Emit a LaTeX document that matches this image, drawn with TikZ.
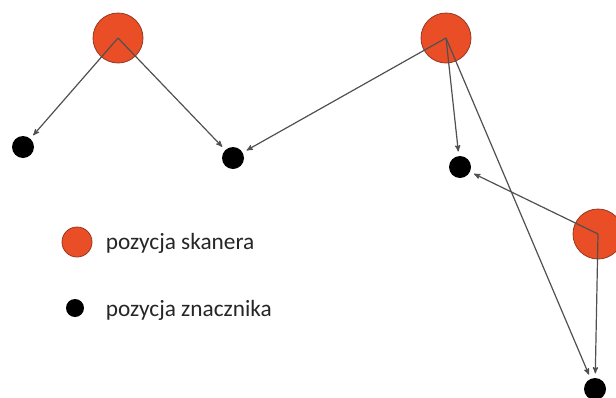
\documentclass[tikz,border=0pt]{standalone}
\usepackage{fontspec}
\setmainfont{Carlito}
\usetikzlibrary{arrows}
\definecolor{scanorange}{RGB}{234,78,38}
\definecolor{scanedge}{RGB}{150,55,35}
\definecolor{linegray}{RGB}{80,80,80}

\begin{document}
\begin{tikzpicture}[x=1pt,y=-1pt,->,>=stealth',shorten >=4pt,line width=1.2pt]
  \tikzstyle{scanner}=[circle,draw=scanedge,line width=0.8pt,fill=scanorange,minimum size=50pt,inner sep=0pt]
  \tikzstyle{marker}=[circle,fill=black,minimum size=22pt,inner sep=0pt]
  \tikzstyle{legend}=[anchor=west,text=black!85,font=\fontsize{23.3}{28}\selectfont]
  \tikzstyle{every edge}=[draw=linegray]

  \useasboundingbox (0,0) rectangle (616,397);

  \node[scanner] (s1) at (118,38)  {};
  \node[scanner] (s2) at (446,38)  {};
  \node[scanner] (s3) at (598,234) {};

  \node[marker]  (m1) at (23,147)  {};
  \node[marker]  (m2) at (233,158) {};
  \node[marker]  (m3) at (460,167) {};
  \node[marker]  (m4) at (595,389) {};

  \path (s1.center) edge (m1)
        (s1.center) edge (m2)
        (s2.center) edge (m2)
        (s2.center) edge (m3)
        (s2.center) edge (m4)
        (s3.center) edge (m3)
        (s3.center) edge (m4);

  % legend
  \node[scanner,minimum size=30pt] (ls) at (77,242) {};
  \node[marker,minimum size=18pt]  (lm) at (75,308) {};
  \node[legend] (lstxt) at (102,243) {pozycja skanera};
  \node[legend] (lmtxt) at (102,310) {pozycja znacznika};
\end{tikzpicture}
\end{document}
